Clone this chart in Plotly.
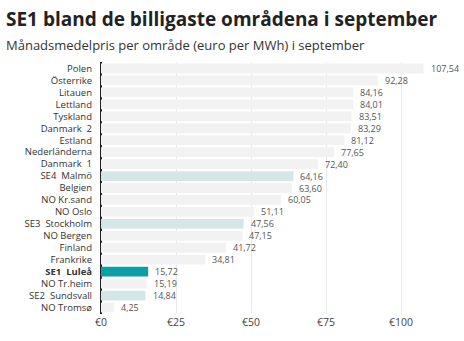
import plotly.graph_objects as go

# Monthly average electricity price per bidding area, September (EUR/MWh)
areas = ["Polen", "Österrike", "Litauen", "Lettland", "Tyskland", "Danmark  2",
         "Estland", "Nederländerna", "Danmark  1", "SE4  Malmö", "Belgien",
         "NO Kr.sand", "NO Oslo", "SE3  Stockholm", "NO Bergen", "Finland",
         "Frankrike", "SE1  Luleå", "NO Tr.heim", "SE2  Sundsvall", "NO Tromsø"]
prices = [107.54, 92.28, 84.16, 84.01, 83.51, 83.29, 81.12, 77.65, 72.40, 64.16,
          63.60, 60.05, 51.11, 47.56, 47.15, 41.72, 34.81, 15.72, 15.19, 14.84, 4.25]

tick_vals = [0, 25, 50, 75, 100]
tick_text = ["€0", "€25", "€50", "€75", "€100"]

GREY = "#f2f2f2"
TEAL_LIGHT = "#d3e7e7"
TEAL = "#0a9fa5"

colors = []
labels = []
for a in areas:
    if a.startswith("SE1"):
        colors.append(TEAL)
        labels.append("<b>" + a + "</b>")
    elif a.startswith("SE"):
        colors.append(TEAL_LIGHT)
        labels.append(a)
    else:
        colors.append(GREY)
        labels.append(a)

fig = go.Figure(go.Bar(
    x=prices,
    y=labels,
    orientation="h",
    marker=dict(color=colors, line=dict(width=0)),
    hoverinfo="skip",
))

# value labels just right of each bar end
value_labels = [
    dict(x=v, y=lab, xref="x", yref="y", text=f"{v:.2f}".replace(".", ","),
         xanchor="left", yanchor="middle", xshift=6, showarrow=False,
         borderpad=0, height=11,
         font=dict(family="Open Sans", size=9, color="#555555"))
    for v, lab in zip(prices, labels)
]

fig.update_layout(
    width=464, height=341,
    margin=dict(l=101, r=18, t=62, b=25),
    paper_bgcolor="white", plot_bgcolor="white",
    bargap=0.18,
    showlegend=False,
    font=dict(family="Open Sans", color="#333333"),
    xaxis=dict(
        range=[0, 115], tickvals=tick_vals, ticktext=tick_text,
        showgrid=True, gridcolor="#e9e9e9", gridwidth=1,
        zeroline=True, zerolinecolor="#222222", zerolinewidth=1.5,
        showline=False, ticks="",
        tickfont=dict(family="Open Sans", size=10.5, color="#444444"),
    ),
    yaxis=dict(
        autorange="reversed", showgrid=False, ticks="", showline=False,
        ticklabelstandoff=8,
        tickfont=dict(family="Open Sans", size=9.5, color="#333333"),
    ),
    annotations=value_labels + [
        dict(text="<b>SE1 bland de billigaste områdena i september</b>",
             x=0, y=1, xref="paper", yref="paper", xanchor="left", yanchor="top",
             xshift=-97, yshift=58, showarrow=False,
             font=dict(family="Open Sans", size=19, color="#222222")),
        dict(text="Månadsmedelpris per område (euro per MWh) i september",
             x=0, y=1, xref="paper", yref="paper", xanchor="left", yanchor="top",
             xshift=-97, yshift=28, showarrow=False,
             font=dict(family="Open Sans", size=13, color="#333333")),
    ],
)

fig.write_html("out.html")
